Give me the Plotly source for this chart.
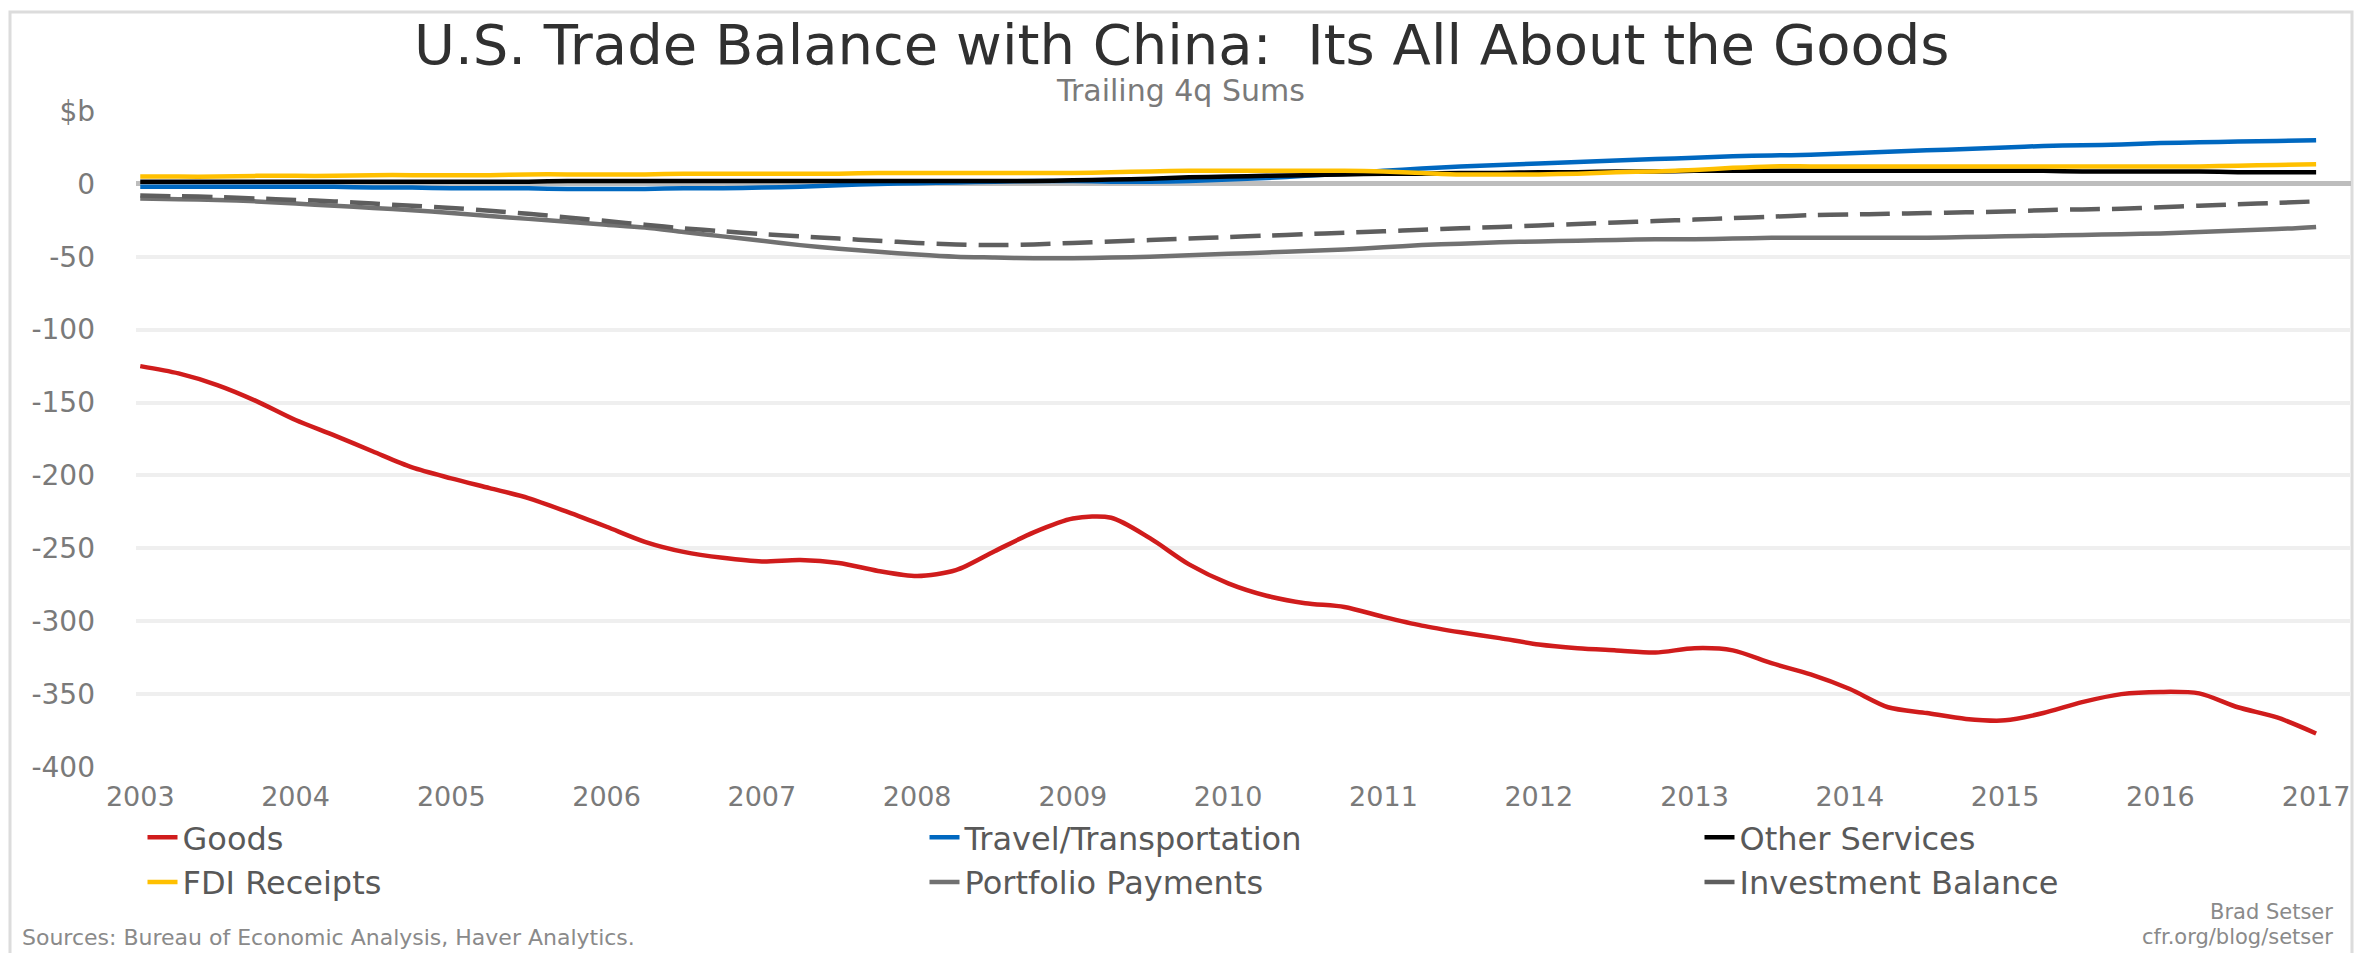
import pandas as pd
import plotly.graph_objects as go

# Quarterly periods, trailing 4q sums ($ billions)
periods = pd.period_range("2003Q1", "2017Q1", freq="Q")
dates = [p.start_time for p in periods]

goods = [-125, -130, -138, -149, -162, -172.5, -183.6, -194.5,
         -202, -208.7, -215.5, -225, -235.2, -245.5, -252.4, -256.5,
         -259, -258, -260, -265.5, -269, -265, -252, -239,
         -229.5, -229, -243, -261, -274, -282.5, -287.6, -290.2,
         -297, -303, -307.6, -311.6, -316, -318.5, -320, -321.5,
         -318.5, -320, -328.8, -336.5, -346.5, -359, -363, -367,
         -368, -363, -355.5, -350, -348.5, -349.5, -359, -366, -377]

travel = [-2, -2, -2, -2, -2, -2, -2.5, -2.5,
          -3, -3, -3, -3.5, -3.5, -3.5, -3, -3,
          -2.5, -2, -1, 0, 0.5, 1, 1.5, 2,
          2, 1.5, 1.5, 2, 3, 4, 5.5, 7,
          9, 10.5, 12, 13, 14, 15, 16, 17,
          18, 19, 19.5, 20, 21, 22, 23, 24,
          25, 26, 26.5, 27, 28, 28.5, 29, 29.5, 30]

other_services = [1.5, 1.5, 1.5, 1.5, 1.5, 1.5, 1.5, 1.5,
                  1.5, 1.5, 1.5, 2, 2, 2, 2, 2,
                  2, 2, 2, 2, 2, 2, 2, 2,
                  2.5, 3, 3.5, 4.5, 5, 5.5, 6, 6.5,
                  7, 7, 7.5, 7.5, 8, 8, 8.5, 8.5,
                  9, 9, 9, 9, 9, 9, 9, 9,
                  9, 9, 8.5, 8.5, 8.5, 8.5, 8, 8, 8]

fdi_receipts = [5, 5, 5, 5.5, 5.5, 5.5, 6, 6,
                6, 6, 6.5, 6.5, 6.5, 6.5, 7, 7,
                7, 7, 7, 7.5, 7.5, 7.5, 7.5, 7.5,
                7.5, 8, 8.5, 9, 9, 9, 9, 9,
                8.5, 7.5, 6.5, 6.5, 6.5, 7, 8, 8.5,
                9.5, 11, 12, 12, 12, 12, 12, 12,
                12, 12, 12, 12, 12, 12, 12.5, 13, 13.5]

portfolio_payments = [-10, -10.5, -11, -12, -13.5, -15, -16.5, -18,
                      -20, -22, -24, -26, -28, -30, -33, -36,
                      -39, -42, -44.5, -46.5, -48.5, -50, -50.5, -51,
                      -51, -50.5, -50, -49, -48, -47, -46, -45,
                      -43.5, -42, -41, -40, -39.5, -39, -38.5, -38,
                      -38, -37.5, -37, -37, -37, -37, -37, -36.5,
                      -36, -35.5, -35, -34.5, -34, -33, -32, -31, -29.5]

investment_balance = [-8, -8.5, -9, -10, -11, -12, -13.5, -15,
                      -16.5, -18.5, -20.5, -23, -25.5, -28, -30.5, -32.5,
                      -34.5, -36, -37.5, -39, -40.5, -41.5, -42, -41.5,
                      -40.5, -39.5, -38.5, -37.5, -36.5, -35.5, -34.5, -33.5,
                      -32.5, -31.5, -30.5, -29.5, -28.5, -27.5, -26.5, -25.5,
                      -24.5, -23.5, -22.5, -21.5, -21, -20.5, -20, -19.5,
                      -19, -18, -17.5, -17, -16, -15, -14, -13, -12]

y_tick_vals = [50, 0, -50, -100, -150, -200, -250, -300, -350, -400]
y_tick_text = ["$b", "0", "-50", "-100", "-150", "-200", "-250", "-300", "-350", "-400"]
x_tick_years = list(range(2003, 2018))

FONT = "DejaVu Sans"

# name, values, colour, dash, legend column
series = [
    ("Goods", goods, "#d01c1c", "solid", "legend"),
    ("Travel/Transportation", travel, "#0068c0", "solid", "legend2"),
    ("Other Services", other_services, "#000000", "solid", "legend3"),
    ("FDI Receipts", fdi_receipts, "#ffc000", "solid", "legend"),
    ("Portfolio Payments", portfolio_payments, "#717171", "solid", "legend2"),
    ("Investment Balance", investment_balance, "#5e5e5e", "30px,12px", "legend3"),
]

fig = go.Figure()
for name, vals, color, dash, leg in series:
    fig.add_trace(go.Scatter(
        x=dates, y=vals, name=name, mode="lines", legend=leg,
        line=dict(color=color, width=4.5, dash=dash, shape="spline", smoothing=0.8),
        hoverinfo="skip",
    ))

W, H = 2354, 953
L, R, T, B = 136, 3, 111, 186
pw, ph = W - L - R, H - T - B


def px_x(px):
    return (px - L) / pw


def px_y(py):
    return (H - B - py) / ph


def legend_col(text_left_px):
    return dict(
        orientation="v", x=px_x(text_left_px - 41.5), xanchor="left",
        y=px_y(810), yanchor="top", tracegroupgap=0,
        font=dict(size=32, color="#595959", family=FONT),
        bgcolor="rgba(0,0,0,0)", traceorder="normal",
    )


fig.update_layout(
    width=W, height=H,
    margin=dict(l=L, r=R, t=T, b=B, pad=0),
    paper_bgcolor="white", plot_bgcolor="white",
    font=dict(family=FONT, color="#595959"),
    title=dict(
        text="U.S. Trade Balance with China:  Its All About the Goods",
        x=0.502, xref="container", xanchor="center",
        y=1 - 44 / H, yref="container", yanchor="middle",
        font=dict(size=56, color="#303030", family=FONT),
    ),
    showlegend=True,
    legend=legend_col(184),
    legend2=legend_col(966),
    legend3=legend_col(1741),
    xaxis=dict(
        type="date",
        range=["2002-12-22", "2017-03-24"],
        tickvals=[pd.Timestamp(f"{y}-01-01") for y in x_tick_years],
        ticktext=[str(y) for y in x_tick_years],
        showgrid=False, zeroline=False, showline=False,
        ticks="", ticklabelstandoff=11,
        tickfont=dict(size=27, color="#7a7a7a", family=FONT),
        automargin=False,
    ),
    yaxis=dict(
        range=[-400, 50],
        tickvals=y_tick_vals, ticktext=y_tick_text,
        showgrid=True, gridcolor="#efefef", gridwidth=4,
        zeroline=True, zerolinecolor="#bdbdbd", zerolinewidth=5,
        showline=False, ticks="", ticklabelstandoff=40,
        tickfont=dict(size=28, color="#7a7a7a", family=FONT),
        automargin=False,
    ),
    shapes=[dict(
        type="rect", xref="paper", yref="paper",
        x0=px_x(10), x1=px_x(2352), y0=px_y(975), y1=px_y(12),
        line=dict(color="#dcdcdc", width=3), fillcolor="rgba(0,0,0,0)",
        layer="below",
    )],
    annotations=[
        dict(text="Trailing 4q Sums", xref="paper", yref="paper",
             x=px_x(1180), y=px_y(90), xanchor="center", yanchor="middle",
             showarrow=False, font=dict(size=30, color="#7a7a7a", family=FONT)),
        dict(text="Sources: Bureau of Economic Analysis, Haver Analytics.",
             xref="paper", yref="paper", x=px_x(20), y=px_y(937),
             xanchor="left", yanchor="middle", showarrow=False,
             font=dict(size=22, color="#8a8a8a", family=FONT)),
        dict(text="Brad Setser", xref="paper", yref="paper",
             x=px_x(2335), y=px_y(912), xanchor="right", yanchor="middle",
             showarrow=False, font=dict(size=21, color="#8a8a8a", family=FONT)),
        dict(text="cfr.org/blog/setser", xref="paper", yref="paper",
             x=px_x(2335), y=px_y(937), xanchor="right", yanchor="middle",
             showarrow=False, font=dict(size=21, color="#8a8a8a", family=FONT)),
    ],
)

fig.write_html("out.html")
